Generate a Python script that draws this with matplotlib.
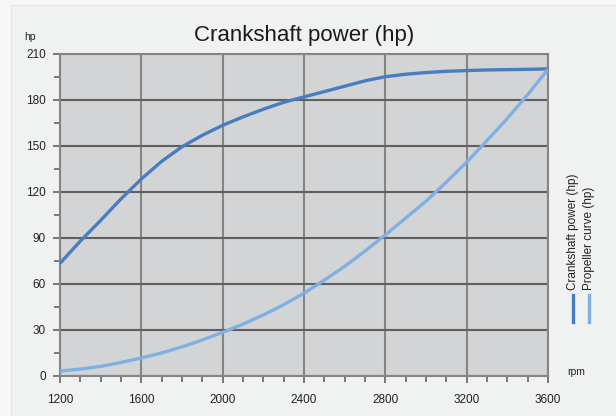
import matplotlib
matplotlib.use("Agg")
import matplotlib.pyplot as plt
from matplotlib.lines import Line2D
from matplotlib.patches import Rectangle
from matplotlib.ticker import MultipleLocator

plt.rcParams["font.family"] = ["Liberation Sans", "DejaVu Sans"]

RPM = [1200, 1300, 1400, 1500, 1600, 1700, 1800, 1900, 2000, 2100, 2200, 2300, 2400,
       2500, 2600, 2700, 2800, 2900, 3000, 3100, 3200, 3300, 3400, 3500, 3600]
CRANKSHAFT_HP = [73.5, 88, 101.5, 115.5, 128.5, 140, 149.5, 157, 163.5, 169, 174, 178.5, 182,
                 185.5, 189, 192.5, 195.2, 196.8, 197.9, 198.7, 199.2, 199.6, 199.8, 200, 200.3]
PROPELLER_HP = [3.2, 4.5, 6.3, 8.8, 11.8, 15, 19, 23.5, 28.5, 33.8, 39.8, 46.5, 54,
                62.5, 71.5, 81.5, 92, 103, 114, 126.5, 139.5, 153.5, 168, 183.5, 200]
SERIES_NAMES = ["Crankshaft power (hp)", "Propeller curve (hp)"]
SERIES_COLORS = ["#4a7dc0", "#80b0e2"]

W, H = 616, 416
fig = plt.figure(figsize=(W / 100, H / 100), dpi=100)
fig.patch.set_facecolor("#f7f7f7")
fig.add_artist(Rectangle((11 / W, 0), 1, 1 - 5 / H, transform=fig.transFigure,
                         facecolor="#f0f1f1", edgecolor="#e4e4e4", lw=0.8, zorder=-1))

ax = fig.add_axes([60 / W, 40 / H, 488 / W, 322 / H])
ax.set_facecolor("#d3d4d6")

ax.plot(RPM, CRANKSHAFT_HP, color=SERIES_COLORS[0], lw=2.4, zorder=3,
        solid_capstyle="butt", solid_joinstyle="round")
ax.plot(RPM, PROPELLER_HP, color=SERIES_COLORS[1], lw=2.4, zorder=3,
        solid_capstyle="butt", solid_joinstyle="round")

ax.set_xlim(1200, 3600)
ax.set_ylim(0, 210)
ax.xaxis.set_major_locator(MultipleLocator(400))
ax.xaxis.set_minor_locator(MultipleLocator(100))
ax.yaxis.set_major_locator(MultipleLocator(30))
ax.yaxis.set_minor_locator(MultipleLocator(15))

ax.grid(True, which="major", axis="y", color="#5f5f5f", lw=1.5, zorder=1)
ax.grid(True, which="major", axis="x", color="#858585", lw=1.5, zorder=1)
ax.set_axisbelow(True)

for side in ["left", "bottom", "top", "right"]:
    ax.spines[side].set_color("#858585")
    ax.spines[side].set_linewidth(1.5)

ax.tick_params(which="both", direction="out", color="#6f6f6f", width=1.3)
ax.tick_params(which="major", length=5, labelsize=8.5, labelcolor="#222222")
ax.tick_params(axis="x", which="major", pad=8)
ax.tick_params(axis="y", which="major", pad=5)
ax.tick_params(which="minor", length=4)

ax.set_title("Crankshaft power (hp)", fontsize=16, color="#1a1a1a", pad=9)
fig.text(30 / W, 1 - 37 / H, "hp", fontsize=7.5, color="#222222",
         ha="center", va="center")
fig.text(576 / W, 1 - 372 / H, "rpm", fontsize=7.5, color="#222222",
         ha="center", va="center")

# legend: vertical lines with rotated labels to the right of the plot
for i, (name, color) in enumerate(zip(SERIES_NAMES, SERIES_COLORS)):
    x = (573 + 16 * i) / W
    fig.add_artist(Line2D([x, x], [1 - 295 / H, 1 - 322 / H],
                          transform=fig.transFigure, color=color, lw=2.4))
    fig.text(x, 1 - 290 / H, name, rotation=90, fontsize=8.5, color="#222222",
             ha="center", va="bottom")

fig.savefig("out.png", dpi=100, facecolor=fig.get_facecolor())
